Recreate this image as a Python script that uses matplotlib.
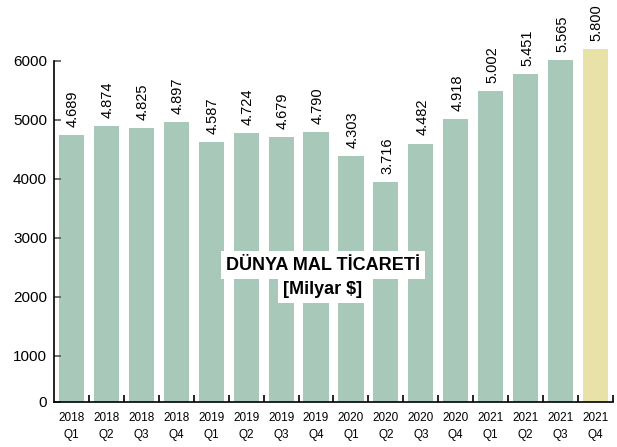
import matplotlib
matplotlib.use('Agg')
import matplotlib.pyplot as plt
import numpy as np

# donnees
years = ['2018', '2018', '2018', '2018', '2019', '2019', '2019', '2019',
         '2020', '2020', '2020', '2020', '2021', '2021', '2021', '2021']
quarters = ['Q1', 'Q2', 'Q3', 'Q4'] * 4
bar_heights = [4746, 4898, 4864, 4966, 4627, 4780, 4712, 4797,
               4390, 3949, 4600, 5017, 5492, 5780, 6017, 6203]
value_labels = ['4.689', '4.874', '4.825', '4.897', '4.587', '4.724', '4.679', '4.790',
                '4.303', '3.716', '4.482', '4.918', '5.002', '5.451', '5.565', '5.800']
ytick_vals = [220, 1000, 2000, 3000, 4000, 5000, 6000]
ytick_labels = ['0', '1000', '2000', '3000', '4000', '5000', '6000']

green = '#a8c9b9'
yellow = '#e8e2a9'
colors = [green] * 15 + [yellow]

narrow = ['Liberation Sans Narrow', 'Liberation Sans', 'DejaVu Sans']
plt.rcParams['font.family'] = ['Liberation Sans', 'DejaVu Sans']

fig = plt.figure(figsize=(6.17, 4.47), dpi=100)
ax = fig.add_axes([0.0875, 0.1007, 0.906, 0.8031])

x = np.arange(len(bar_heights))
ax.bar(x, bar_heights, width=0.72, color=colors)

for xi, h, lab in zip(x, bar_heights, value_labels):
    ax.annotate(lab, (xi, h), xytext=(1, 6), textcoords='offset points',
                rotation=90, ha='center', va='bottom', fontsize=10.5)

ax.set_xlim(-0.5, 15.5)
ax.set_ylim(220, 6305)

ax.spines['top'].set_visible(False)
ax.spines['right'].set_visible(False)
ax.spines['left'].set_bounds(220, 6000)
ax.spines['left'].set_linewidth(1.2)
ax.spines['bottom'].set_linewidth(1.2)

ax.set_yticks(ytick_vals)
ax.set_yticklabels(ytick_labels, fontsize=11)
ax.tick_params(axis='y', direction='in', length=5, width=1.2, color='#555555', pad=5)

ax.set_xticks(x)
ax.set_xticklabels([y + '\n' + q for y, q in zip(years, quarters)],
                   fontsize=8.5, family=narrow, linespacing=1.6)
ax.tick_params(axis='x', which='major', length=0, pad=7)
ax.set_xticks(x + 0.5, minor=True)
ax.tick_params(axis='x', which='minor', direction='in', length=5, width=1.2)

fig.text(0.5235, 0.407, 'DÜNYA MAL TİCARETİ', ha='center', va='center',
         fontsize=13, fontweight='bold',
         bbox=dict(boxstyle='square,pad=0.3', fc='white', ec='none'))
fig.text(0.5235, 0.353, '[Milyar $]', ha='center', va='center',
         fontsize=13, fontweight='bold',
         bbox=dict(boxstyle='square,pad=0.3', fc='white', ec='none'))

plt.savefig('out.png', dpi=100)
